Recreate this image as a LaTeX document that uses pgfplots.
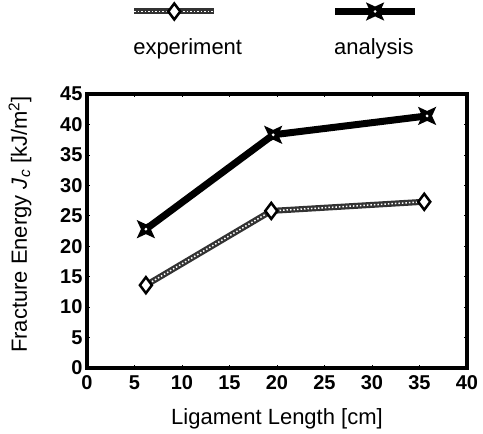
\documentclass[border=0pt]{standalone}
\usepackage{fontspec}
\setmainfont{Liberation Sans}
\usepackage{pgfplots}
\pgfplotsset{compat=1.18}

% four-pointed star with a small white eye, as in the scanned figure
\pgfdeclareplotmark{star4}{%
  \pgfpathmoveto{\pgfqpointpolar{45}{\pgfplotmarksize}}%
  \pgfpathlineto{\pgfqpointpolar{90}{0.38\pgfplotmarksize}}%
  \pgfpathlineto{\pgfqpointpolar{135}{\pgfplotmarksize}}%
  \pgfpathlineto{\pgfqpointpolar{180}{0.38\pgfplotmarksize}}%
  \pgfpathlineto{\pgfqpointpolar{225}{\pgfplotmarksize}}%
  \pgfpathlineto{\pgfqpointpolar{270}{0.38\pgfplotmarksize}}%
  \pgfpathlineto{\pgfqpointpolar{315}{\pgfplotmarksize}}%
  \pgfpathlineto{\pgfqpointpolar{0}{0.38\pgfplotmarksize}}%
  \pgfpathclose
  \pgfusepathqfill
  \begin{pgfscope}%
    \pgfsetfillcolor{white}%
    \pgfpathcircle{\pgfpointorigin}{0.12\pgfplotmarksize}%
    \pgfusepathqfill
  \end{pgfscope}%
}

\begin{document}
\begin{tikzpicture}
  \begin{axis}[
      scale only axis,
      width=380bp, height=274bp,
      xmin=0, xmax=40, ymin=0, ymax=45,
      xtick={0,5,...,40}, ytick={0,5,...,45},
      axis line style={line width=4bp},
      tick style={black, line width=0.6bp},
      major tick length=3bp,
      tick align=inside,
      xticklabel={\pgfmathprintnumber{\tick}},
      yticklabel={\pgfmathprintnumber{\tick}},
      /pgf/number format/assume math mode=true,
      tick label style={font=\fontsize{20bp}{24bp}\selectfont\bfseries},
      xticklabel style={yshift=-4bp},
      yticklabel style={xshift=-1bp},
      label style={font=\fontsize{22bp}{26bp}\selectfont},
      xlabel={Ligament Length [cm]},
      ylabel={Fracture Energy \textit{J}\textsubscript{\textit{c}} [kJ/m\textsuperscript{2}]},
      xlabel style={at={(axis description cs:0.5,-0.208)}, anchor=base},
      ylabel style={at={(axis description cs:-0.176,0.524)}, anchor=center, rotate=0},
      clip=false,
      legend columns=2,
      legend style={at={(axis description cs:0.116,1.13)}, anchor=south west,
        draw=none, fill=none, inner sep=0pt,
        font=\fontsize{22bp}{26bp}\selectfont,
        /tikz/every even column/.append style={column sep=88bp}},
      legend image code/.code={%
        \draw[overlay, mark repeat=2, mark phase=2, #1]
          plot coordinates {(3bp,36bp) (43bp,36bp) (83bp,36bp)};},
    ]
    \addplot[color=black!80, line width=6bp,
      postaction={draw=white, line width=1.5bp, dash pattern=on 1.5bp off 2bp},
      mark=diamond*, mark size=8bp,
      mark options={fill=white, draw=black, line width=2.5bp, solid}]
      coordinates {(6.2,13.6) (19.4,25.8) (35.5,27.3)};
    \addlegendentry{experiment}
    \addplot[color=black, line width=7bp,
      mark=star4, mark size=13bp, mark options={fill=black, solid}]
      coordinates {(6.2,22.8) (19.6,38.3) (35.8,41.4)};
    \addlegendentry{analysis}
  \end{axis}
  \pgfresetboundingbox
  \path (-87bp,-66bp) rectangle (396bp,368bp);
\end{tikzpicture}
\end{document}
